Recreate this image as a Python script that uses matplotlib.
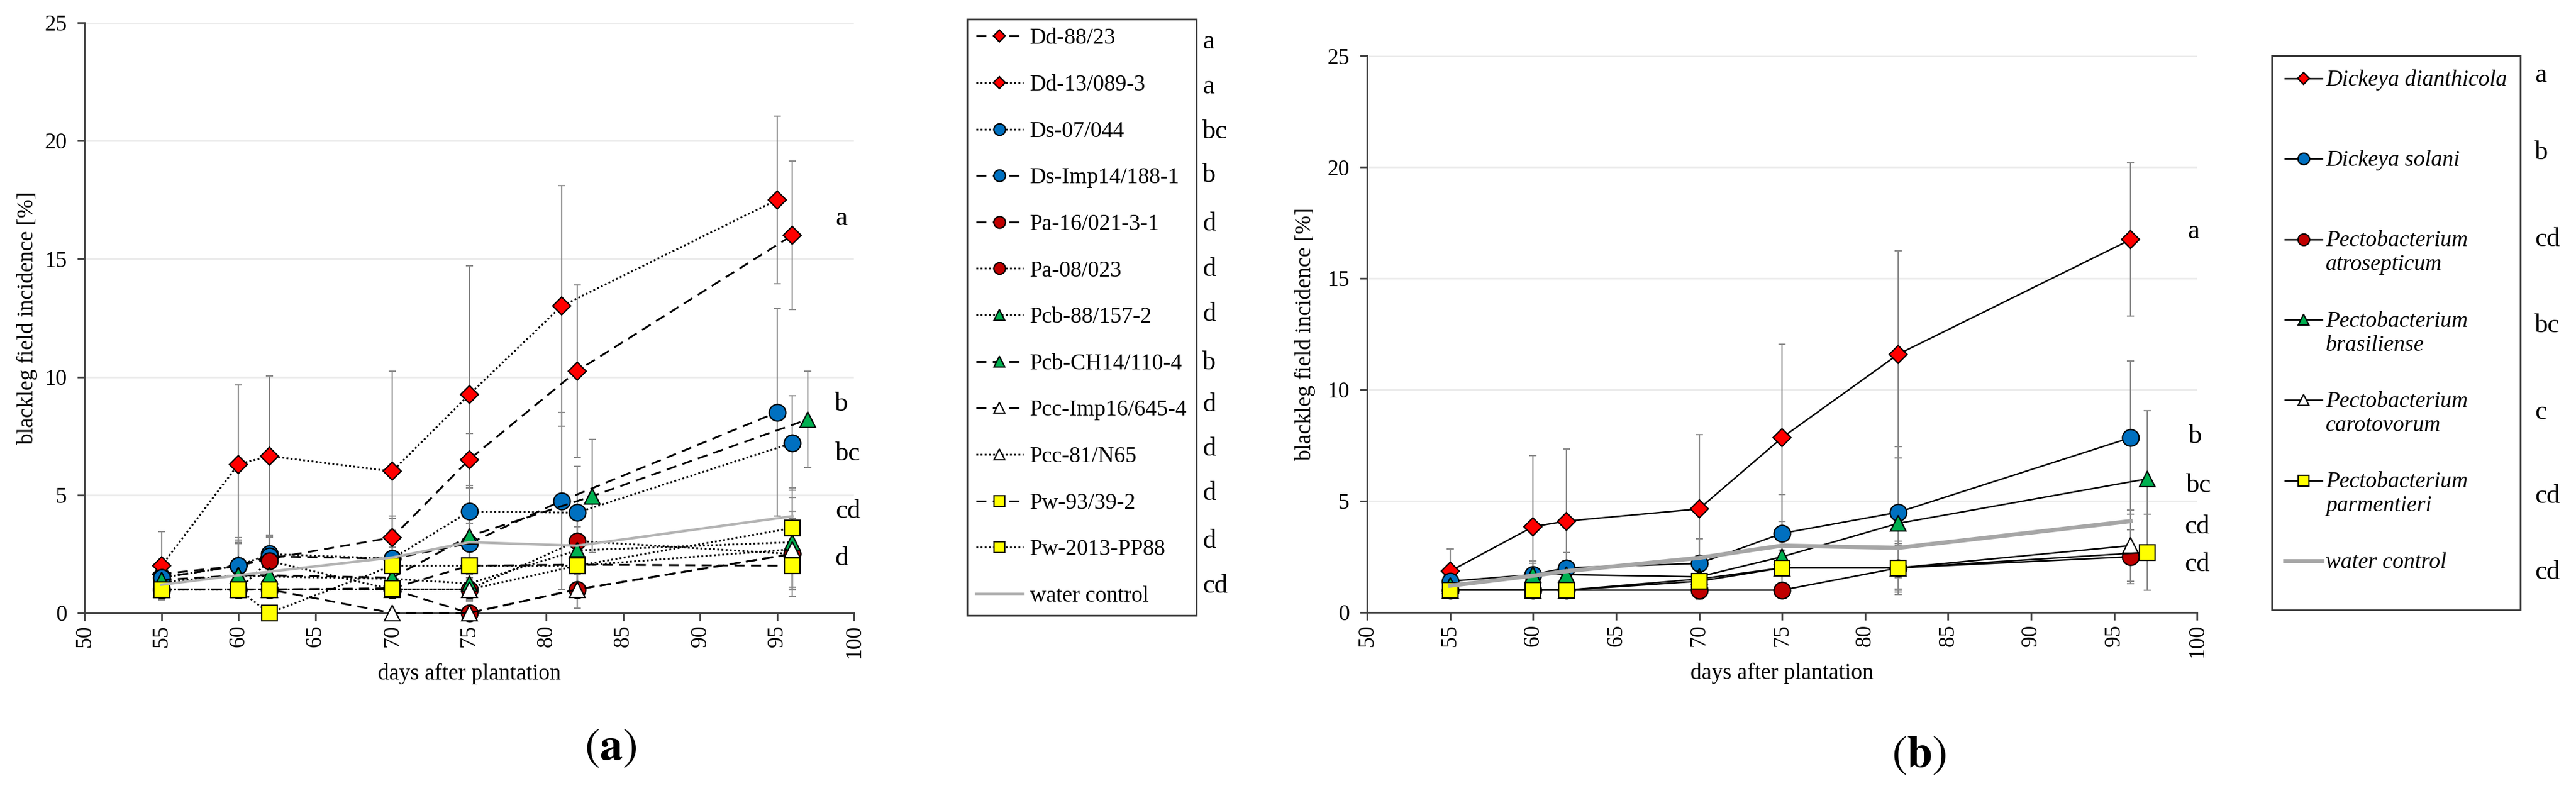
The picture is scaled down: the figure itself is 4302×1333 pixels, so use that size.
import numpy as np
import matplotlib
matplotlib.use("Agg")
import matplotlib.pyplot as plt
from matplotlib.legend_handler import HandlerLine2D

plt.rcParams['font.family'] = ['Liberation Serif', 'DejaVu Serif']
plt.rcParams['mathtext.fontset'] = 'stix'

# ---------------- data: panel (a), single strains ----------------
days = [55, 60, 62, 70, 75, 82, 96]
days_early = [55, 60, 62, 70, 75, 81, 95]
days_late = [55, 60, 62, 70, 75, 83, 97]

strain_labels = ['Dd-88/23', 'Dd-13/089-3', 'Ds-07/044', 'Ds-Imp14/188-1',
                 'Pa-16/021-3-1', 'Pa-08/023', 'Pcb-88/157-2', 'Pcb-CH14/110-4',
                 'Pcc-Imp16/645-4', 'Pcc-81/N65', 'Pw-93/39-2', 'Pw-2013-PP88']
strain_x = [days, days_early, days, days_early,
            days, days, days, days_late,
            days, days, days, days]
strain_y = [
    [1.65, 2.0, 2.3, 3.2, 6.5, 10.25, 16.0],
    [2.0, 6.3, 6.65, 6.0, 9.25, 13.0, 17.5],
    [1.5, 2.0, 2.5, 2.3, 4.3, 4.25, 7.2],
    [1.5, 2.0, 2.4, 2.3, 2.95, 4.75, 8.5],
    [1.0, 1.0, 1.0, 1.0, 0.0, 1.0, 2.5],
    [1.0, 1.0, 2.2, 1.0, 1.0, 3.05, 2.5],
    [1.3, 1.6, 1.55, 1.45, 1.25, 2.65, 3.0],
    [1.4, 1.6, 1.6, 1.5, 3.25, 4.95, 8.2],
    [1.0, 1.0, 1.0, 0.0, 0.0, 1.0, 2.5],
    [1.0, 1.0, 1.0, 1.0, 1.0, 2.0, 2.7],
    [1.0, 1.0, 1.0, 1.05, 2.0, 2.05, 2.0],
    [1.0, 1.0, 0.0, 2.0, 2.0, 2.0, 3.6],
]
strain_err = [
    [0.6, 1.2, 1.0, 0.9, 1.1, 3.65, 3.15],
    [1.45, 3.35, 3.4, 4.25, 5.45, 5.1, 3.55],
    [0.5, 1.0, 0.8, 1.7, 1.0, 1.95, 2.0],
    [0.5, 1.1, 0.9, 1.2, 1.3, 3.75, 4.4],
    [0.3, 0.3, 0.3, 0.3, 0.0, 0.8, 1.5],
    [0.3, 0.3, 1.0, 0.3, 0.5, 1.0, 1.5],
    [0.4, 0.6, 0.5, 0.5, 0.7, 1.0, 2.3],
    [0.5, 0.6, 0.6, 0.6, 1.0, 2.4, 2.05],
    [0.3, 0.3, 0.3, 0.0, 0.0, 0.8, 1.4],
    [0.3, 0.3, 0.3, 0.3, 0.4, 1.0, 1.6],
    [0.3, 0.3, 0.3, 0.3, 0.6, 0.9, 1.0],
    [0.3, 0.3, 0.0, 0.8, 0.7, 0.9, 1.3],
]
strain_letters = ['a', 'a', 'bc', 'b', 'd', 'd', 'd', 'b', 'd', 'd', 'd', 'd', 'cd']

water_a_x = [55, 60, 62, 70, 75, 82, 96]
water_a_y = [1.2, 1.6, 1.75, 2.35, 3.0, 2.85, 4.1]

# letters next to the curves in panel (a)
curve_letters_a = ['a', 'b', 'bc', 'cd', 'd']
curve_letters_a_x = [99.2, 99.2, 99.6, 99.6, 99.2]
curve_letters_a_y = [16.7, 8.85, 6.75, 4.3, 2.3]

# ---------------- data: panel (b), species ----------------
days_b_late = [55, 60, 62, 70, 75, 82, 97]
species_labels = ['Dickeya dianthicola\n ', 'Dickeya solani\n ',
                  'Pectobacterium\natrosepticum', 'Pectobacterium\nbrasiliense',
                  'Pectobacterium\ncarotovorum', 'Pectobacterium\nparmentieri']
species_x = [days, days, days, days_b_late, days, days_b_late]
species_y = [
    [1.85, 3.85, 4.1, 4.65, 7.85, 11.6, 16.75],
    [1.4, 1.7, 2.0, 2.2, 3.55, 4.5, 7.85],
    [1.0, 1.0, 1.0, 1.0, 1.0, 2.0, 2.5],
    [1.2, 1.7, 1.7, 1.6, 2.5, 4.0, 6.0],
    [1.0, 1.0, 1.0, 1.5, 2.0, 2.0, 3.0],
    [1.0, 1.0, 1.0, 1.4, 2.0, 2.0, 2.7],
]
species_err = [
    [1.0, 3.2, 3.25, 3.35, 4.2, 4.65, 3.45],
    [0.5, 0.6, 0.7, 1.1, 1.75, 2.95, 3.45],
    [0.3, 0.3, 0.3, 0.4, 0.3, 1.0, 1.2],
    [0.4, 0.5, 0.6, 0.9, 1.6, 2.95, 3.05],
    [0.3, 0.3, 0.3, 0.6, 0.8, 1.2, 1.6],
    [0.3, 0.3, 0.3, 0.5, 0.8, 1.1, 1.7],
]
species_letters = ['a', 'b', 'cd', 'bc', 'c', 'cd', 'cd']

water_b_x = [55, 60, 62, 70, 75, 82, 96]
water_b_y = [1.2, 1.65, 1.85, 2.45, 3.0, 2.9, 4.1]

curve_letters_b = ['a', 'b', 'bc', 'cd', 'cd']
curve_letters_b_x = [99.8, 99.9, 100.1, 100.0, 100.0]
curve_letters_b_y = [17.1, 7.9, 5.7, 3.85, 2.15]

# ---------------- styles ----------------
DASH = (0, (5.5, 3.5))
DOT = (0, (1, 1.3))
strain_marker = ['D', 'D', 'o', 'o', 'o', 'o', '^', '^', '^', '^', 's', 's']
strain_color = ['#ff0000', '#ff0000', '#0070c0', '#0070c0', '#c00000', '#c00000',
                '#00b050', '#00b050', '#ffffff', '#ffffff', '#ffff00', '#ffff00']
strain_ls = [DASH, DOT, DOT, DASH, DASH, DOT, DOT, DASH, DASH, DOT, DASH, DOT]
species_marker = ['D', 'o', 'o', '^', '^', 's']
species_color = ['#ff0000', '#0070c0', '#c00000', '#00b050', '#ffffff', '#ffff00']
marker_size = {'D': 15, 'o': 20, '^': 19, 's': 18.5}

FS = 27


def style_axes(ax, ylabelpad):
    ax.set_xlim(50, 100)
    ax.set_ylim(0, 25)
    ax.set_xticks(range(50, 101, 5))
    ax.set_yticks(range(0, 26, 5))
    ax.grid(axis='y', color='#ebebeb', lw=2)
    ax.set_axisbelow(True)
    for s in ['top', 'right']:
        ax.spines[s].set_visible(False)
    for s in ['left', 'bottom']:
        ax.spines[s].set_color('#404040')
        ax.spines[s].set_linewidth(2)
    ax.tick_params(axis='x', labelrotation=90, length=9, width=2,
                   color='#404040', labelsize=FS, pad=5)
    ax.tick_params(axis='y', length=9, width=2, color='#404040',
                   labelsize=FS, pad=12)
    ax.set_xlabel('days after plantation', fontsize=FS, labelpad=6)
    ax.set_ylabel('blackleg field incidence [%]', fontsize=FS, labelpad=ylabelpad)


class TopLineHandler(HandlerLine2D):
    # put the legend symbol on the first line of a two-line label
    def __init__(self, shift, **kw):
        super().__init__(**kw)
        self.shift = shift

    def create_artists(self, legend, orig_handle, xdescent, ydescent,
                       width, height, fontsize, trans):
        arts = super().create_artists(legend, orig_handle, xdescent, ydescent,
                                      width, height, fontsize, trans)
        for a in arts:
            a.set_ydata(np.asarray(a.get_ydata()) + self.shift)
        return arts


fig = plt.figure(figsize=(43.02, 13.33), dpi=100)
ax1 = fig.add_axes([0.0328, 0.2318, 0.2987, 0.7397])
ax2 = fig.add_axes([0.5307, 0.2326, 0.3222, 0.6973])
style_axes(ax1, 8)
style_axes(ax2, 14)

# ---- panel (a)
handles_a = []
for i in range(len(strain_labels)):
    ax1.errorbar(strain_x[i], strain_y[i], yerr=strain_err[i], fmt='none',
                 ecolor='#8a8a8a', elinewidth=1.6, capsize=4.5, capthick=1.6,
                 zorder=2)
for i in range(len(strain_labels)):
    m = strain_marker[i]
    h, = ax1.plot(strain_x[i], strain_y[i], linestyle=strain_ls[i], color='black',
                  lw=2.2, marker=m, ms=marker_size[m], mfc=strain_color[i],
                  mec='black', mew=1.6, zorder=3 + i, clip_on=False,
                  label=strain_labels[i])
    handles_a.append(h)
hw, = ax1.plot(water_a_x, water_a_y, color='#b3b3b3', lw=3, zorder=20,
               label='water control')
handles_a.append(hw)

for t, x, y in zip(curve_letters_a, curve_letters_a_x, curve_letters_a_y):
    ax1.text(x, y, t, fontsize=32, ha='center', va='center')

leg1 = fig.legend(handles=handles_a, labels=strain_labels + ['water control'],
                  loc='upper left', bbox_to_anchor=(0.3754, 0.976),
                  bbox_transform=fig.transFigure, frameon=True, fancybox=False,
                  edgecolor='black', fontsize=FS, labelspacing=1.15,
                  handlelength=2.1, handletextpad=0.3, borderpad=0.4,
                  borderaxespad=0, markerscale=0.7)
leg1.get_frame().set_linewidth(2)

letters_a_y = [70, 145, 220, 293, 374, 450, 525, 606, 676, 750, 824, 904, 979]
for t, y in zip(strain_letters, letters_a_y):
    fig.text(0.4668, 1 - y / 1333, t, fontsize=32, ha='left', va='center')

# ---- panel (b)
handles_b = []
for i in range(len(species_labels)):
    ax2.errorbar(species_x[i], species_y[i], yerr=species_err[i], fmt='none',
                 ecolor='#8a8a8a', elinewidth=1.6, capsize=4.5, capthick=1.6,
                 zorder=2)
for i in range(len(species_labels)):
    m = species_marker[i]
    h, = ax2.plot(species_x[i], species_y[i], color='black', lw=1.8, marker=m,
                  ms=marker_size[m], mfc=species_color[i], mec='black', mew=1.6,
                  zorder=3 + i, clip_on=False)
    handles_b.append(h)
hw2, = ax2.plot(water_b_x, water_b_y, color='#a6a6a6', lw=5, zorder=20)
handles_b.append(hw2)

for t, x, y in zip(curve_letters_b, curve_letters_b_x, curve_letters_b_y):
    ax2.text(x, y, t, fontsize=32, ha='center', va='center')

hmap = {h: TopLineHandler(0.6 * FS) for h in handles_b}
leg2 = fig.legend(handles=handles_b, labels=species_labels + ['water control\n '],
                  loc='upper left', bbox_to_anchor=(0.8819, 0.930),
                  bbox_transform=fig.transFigure, frameon=True, fancybox=False,
                  edgecolor='black', prop={'size': FS, 'style': 'italic'},
                  labelspacing=1.6, handlelength=1.65, handletextpad=0.15,
                  borderpad=0.6, borderaxespad=0, markerscale=0.7,
                  handler_map=hmap)
leg2.get_frame().set_linewidth(2)

letters_b_y = [126, 255, 400, 544, 689, 829, 956]
for t, y in zip(species_letters, letters_b_y):
    fig.text(0.984, 1 - y / 1333, t, fontsize=32, ha='left', va='center')

fig.text(0.237, 0.062, r'$(\mathbf{a})$', fontsize=55, ha='center', va='center')
fig.text(0.745, 0.053, r'$(\mathbf{b})$', fontsize=55, ha='center', va='center')

fig.savefig('out.png', dpi=100)
